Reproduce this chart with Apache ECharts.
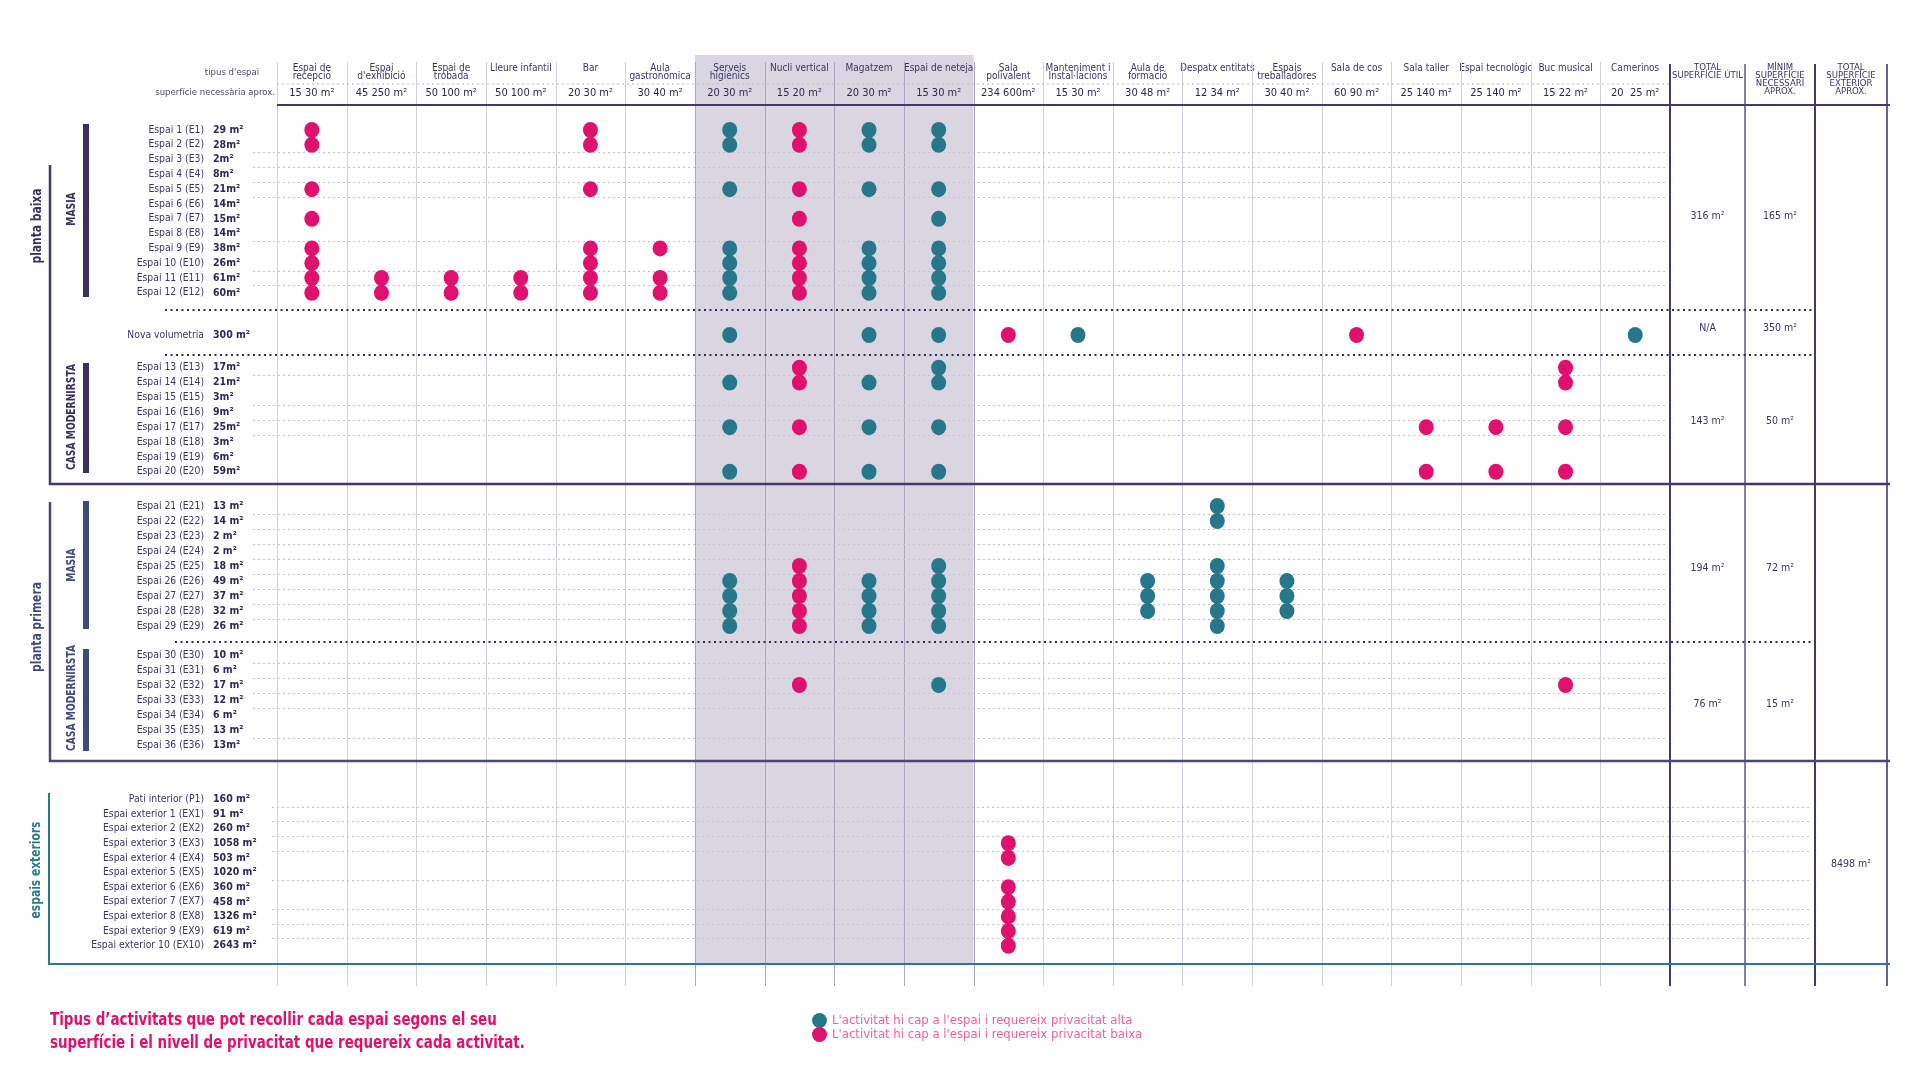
<!DOCTYPE html>
<html><head><meta charset="utf-8">
<script src="https://cdn.jsdelivr.net/npm/echarts@6/dist/echarts.min.js"></script>
<style>html,body{margin:0;padding:0;background:#fff}#c{width:1920px;height:1081px}</style>
</head><body><div id="c"></div><script>
// ---------- DATA ----------
const columnNames = ['Espai de\nrecepció','Espai\nd\'exhibició','Espai de\ntrobada','Lleure infantil','Bar','Aula\ngastronòmica','Serveis\nhigiènics','Nucli vertical','Magatzem','Espai de neteja','Sala\npolivalent','Manteniment i\nInstal·lacions','Aula de\nformació','Despatx entitats','Espais\ntreballadores','Sala de cos','Sala taller','Espai tecnològic','Buc musical','Camerinos'];
const columnAreas = ['15 30 m²','45 250 m²','50 100 m²','50 100 m²','20 30 m²','30 40 m²','20 30 m²','15 20 m²','20 30 m²','15 30 m²','234 600m²','15 30 m²','30 48 m²','12 34 m²','30 40 m²','60 90 m²','25 140 m²','25 140 m²','15 22 m²','20  25 m²'];

const baixaMasiaCodes = ['E1','E2','E3','E4','E5','E6','E7','E8','E9','E10','E11','E12'];
const baixaMasiaLabels = ['Espai 1 (E1)','Espai 2 (E2)','Espai 3 (E3)','Espai 4 (E4)','Espai 5 (E5)','Espai 6 (E6)','Espai 7 (E7)','Espai 8 (E8)','Espai 9 (E9)','Espai 10 (E10)','Espai 11 (E11)','Espai 12 (E12)'];
const baixaMasiaAreas = ['29 m²','28m²','2m²','8m²','21m²','14m²','15m²','14m²','38m²','26m²','61m²','60m²'];

const novaCodes = ['NV'];
const novaLabels = ['Nova volumetria'];
const novaAreas = ['300 m²'];

const baixaCasaCodes = ['E13','E14','E15','E16','E17','E18','E19','E20'];
const baixaCasaLabels = ['Espai 13 (E13)','Espai 14 (E14)','Espai 15 (E15)','Espai 16 (E16)','Espai 17 (E17)','Espai 18 (E18)','Espai 19 (E19)','Espai 20 (E20)'];
const baixaCasaAreas = ['17m²','21m²','3m²','9m²','25m²','3m²','6m²','59m²'];

const primeraMasiaCodes = ['E21','E22','E23','E24','E25','E26','E27','E28','E29'];
const primeraMasiaLabels = ['Espai 21 (E21)','Espai 22 (E22)','Espai 23 (E23)','Espai 24 (E24)','Espai 25 (E25)','Espai 26 (E26)','Espai 27 (E27)','Espai 28 (E28)','Espai 29 (E29)'];
const primeraMasiaAreas = ['13 m²','14 m²','2 m²','2 m²','18 m²','49 m²','37 m²','32 m²','26 m²'];

const primeraCasaCodes = ['E30','E31','E32','E33','E34','E35','E36'];
const primeraCasaLabels = ['Espai 30 (E30)','Espai 31 (E31)','Espai 32 (E32)','Espai 33 (E33)','Espai 34 (E34)','Espai 35 (E35)','Espai 36 (E36)'];
const primeraCasaAreas = ['10 m²','6 m²','17 m²','12 m²','6 m²','13 m²','13m²'];

const exteriorCodes = ['P1','EX1','EX2','EX3','EX4','EX5','EX6','EX7','EX8','EX9','EX10'];
const exteriorLabels = ['Pati interior (P1)','Espai exterior 1 (EX1)','Espai exterior 2 (EX2)','Espai exterior 3 (EX3)','Espai exterior 4 (EX4)','Espai exterior 5 (EX5)','Espai exterior 6 (EX6)','Espai exterior 7 (EX7)','Espai exterior 8 (EX8)','Espai exterior 9 (EX9)','Espai exterior 10 (EX10)'];
const exteriorAreas = ['160 m²','91 m²','260 m²','1058 m²','503 m²','1020 m²','360 m²','458 m²','1326 m²','619 m²','2643 m²'];

const totalUseful = ['316 m²','N/A','143 m²','194 m²','76 m²',''];
const totalMinimum = ['165 m²','350 m²','50 m²','72 m²','15 m²',''];
const totalExterior = ['','','','','','8498 m²'];

// [column index, rows where the activity fits]
const lowPrivacy = [
  [0,['E1','E2','E5','E7','E9','E10','E11','E12']],
  [1,['E11','E12']],
  [2,['E11','E12']],
  [3,['E11','E12']],
  [4,['E1','E2','E5','E9','E10','E11','E12']],
  [5,['E9','E11','E12']],
  [7,['E1','E2','E5','E7','E9','E10','E11','E12','E13','E14','E17','E20','E25','E26','E27','E28','E29','E32']],
  [10,['NV','EX3','EX4','EX6','EX7','EX8','EX9','EX10']],
  [15,['NV']],
  [16,['E17','E20']],
  [17,['E17','E20']],
  [18,['E13','E14','E17','E20','E32']]
];
const highPrivacy = [
  [6,['E1','E2','E5','E9','E10','E11','E12','NV','E14','E17','E20','E26','E27','E28','E29']],
  [8,['E1','E2','E5','E9','E10','E11','E12','NV','E14','E17','E20','E26','E27','E28','E29']],
  [9,['E1','E2','E5','E7','E9','E10','E11','E12','NV','E13','E14','E17','E20','E25','E26','E27','E28','E29','E32']],
  [11,['NV']],
  [12,['E26','E27','E28']],
  [13,['E21','E22','E25','E26','E27','E28','E29']],
  [14,['E26','E27','E28']],
  [19,['NV']]
];
const guideRows = ['E2','E3','E4','E5','E8','E10','E11','E13','E15','E16','E17','E21','E22','E23','E24','E25','E26','E27','E28','E30','E31','E32','E33','E35','P1','EX1','EX2','EX3','EX5','EX7','EX8','EX9'];

const LEGEND_HIGH = "L'activitat hi cap a l'espai i requereix privacitat alta";
const LEGEND_LOW = "L'activitat hi cap a l'espai i requereix privacitat baixa";
const TITLE = "Tipus d’activitats que pot recollir cada espai segons el seu\nsuperfície i el nivell de privacitat que requereix cada activitat.";

// ---------- LAYOUT / STYLE ----------
const NARROW = "'Liberation Sans Narrow','DejaVu Sans Condensed','Arial Narrow',sans-serif";
const INK = '#3b3563';
const PINK = '#e0106d';
const TEAL = '#27778a';
const PURPLE = '#46396a';
const NAVY = '#3e4b7c';

const sections = [
  {codes: baixaMasiaCodes, labels: baixaMasiaLabels, areas: baixaMasiaAreas},
  {codes: novaCodes, labels: novaLabels, areas: novaAreas},
  {codes: baixaCasaCodes, labels: baixaCasaLabels, areas: baixaCasaAreas},
  {codes: primeraMasiaCodes, labels: primeraMasiaLabels, areas: primeraMasiaAreas},
  {codes: primeraCasaCodes, labels: primeraCasaLabels, areas: primeraCasaAreas},
  {codes: exteriorCodes, labels: exteriorLabels, areas: exteriorAreas}
];
const layout = [
  {top:122.6, step:14.8, totalDy:5},
  {top:327.6, step:14.8, totalDy:-7},
  {top:360.3, step:14.86, totalDy:2},
  {top:498.5, step:15, totalDy:2},
  {top:647.5, step:15, totalDy:4},
  {top:792, step:14.64, totalDy:-8}
];
const GRID_LEFT = 277, GRID_RIGHT = 250;

const grids = [], xAxes = [], yAxes = [], series = [];
sections.forEach((s, i) => {
  const L = layout[i];
  grids.push({left: GRID_LEFT, right: GRID_RIGHT, top: L.top, height: s.codes.length * L.step});
  xAxes.push({gridIndex: i, type: 'category', data: columnNames, show: false});
  yAxes.push({
    gridIndex: i, type: 'category', data: s.codes, inverse: true, position: 'left', offset: 0,
    axisLine: {show: false}, axisTick: {show: false}, splitLine: {show: false},
    axisLabel: {interval: 0, margin: 73, fontSize: 10.3, color: INK, fontFamily: NARROW,
      formatter: (v, idx) => s.labels[idx]}
  });
  yAxes.push({
    gridIndex: i, type: 'category', data: s.codes, inverse: true, position: 'left', offset: 0,
    axisLine: {show: false}, axisTick: {show: false}, splitLine: {show: false},
    axisLabel: {interval: 0, margin: 64, align: 'left', fontSize: 10.5, fontWeight: 'bold', color: '#2f2a55', fontFamily: NARROW,
      formatter: (v, idx) => s.areas[idx]}
  });
  const pts = list => {
    const out = [];
    list.forEach(([c, rows]) => rows.forEach(r => { if (s.codes.includes(r)) out.push([columnNames[c], r]); }));
    return out;
  };
  const base = {type: 'scatter', xAxisIndex: i, yAxisIndex: 2 * i, symbol: 'circle', symbolSize: [15, 16], silent: true, z: 5};
  series.push(Object.assign({}, base, {name: LEGEND_HIGH, data: pts(highPrivacy), itemStyle: {color: TEAL, opacity: 1}}));
  series.push(Object.assign({}, base, {name: LEGEND_LOW, data: pts(lowPrivacy), itemStyle: {color: PINK, opacity: 1}}));
});
// header axes on the first grid
const headerOffset = layout[0].top - 105;
xAxes.push({gridIndex: 0, type: 'category', data: columnNames, position: 'top', offset: headerOffset,
  axisLine: {show: false}, axisTick: {show: false},
  axisLabel: {interval: 0, margin: 41, verticalAlign: 'top', lineHeight: 8.5, fontSize: 10, color: INK, fontFamily: NARROW}});
xAxes.push({gridIndex: 0, type: 'category', data: columnNames, position: 'top', offset: headerOffset,
  axisLine: {show: false}, axisTick: {show: false},
  axisLabel: {interval: 0, margin: 12, verticalAlign: 'middle', fontSize: 11, color: '#2c2852', fontFamily: NARROW,
    formatter: (v, idx) => columnAreas[idx]}});

const chart = echarts.init(document.getElementById('c'), null, {renderer: 'canvas'});
chart.setOption({
  animation: false,
  backgroundColor: '#ffffff',
  grid: grids, xAxis: xAxes, yAxis: yAxes, series: series,
  legend: {data: [LEGEND_HIGH, LEGEND_LOW], orient: 'vertical', left: 812, top: 1013, itemWidth: 15, itemHeight: 16, itemGap: -1,
    icon: 'circle', selectedMode: false, padding: 0,
    textStyle: {color: '#e5659d', fontSize: 13, fontFamily: NARROW, fontWeight: 300}}
});

// ---------- DECORATION (positions derived from the axes) ----------
const cx = i => chart.convertToPixel({xAxisIndex: 0}, columnNames[i]);
const bw = cx(1) - cx(0);
const edge = k => cx(0) - bw / 2 + k * bw;
const secOf = code => sections.findIndex(s => s.codes.includes(code));
const rowY = code => { const i = secOf(code); return chart.convertToPixel({yAxisIndex: 2 * i}, code); };

const g = [];
const line = (x1, y1, x2, y2, stroke, w, dash, z) => g.push({type: 'line', silent: true, z: z || 1,
  shape: {x1, y1, x2, y2}, style: {stroke, lineWidth: w, lineDash: dash || null}});
const text = (t, x, y, st, rot, sx) => g.push({type: 'text', silent: true, z: 6, x, y, rotation: rot || 0, scaleX: sx || 1,
  style: Object.assign({text: t, fill: INK, fontFamily: NARROW, fontSize: 11, align: 'center', verticalAlign: 'middle'}, st)});

// shaded block of shared services
g.push({type: 'rect', silent: true, z: 0, shape: {x: edge(6), y: 55, width: edge(10) - edge(6), height: 964 - 55}, style: {fill: '#d9d6e1'}});
// column separators
for (let k = 0; k < 20; k++) {
  const x = Math.round(edge(k)) + 0.5;
  line(x, 62, x, 986, (k >= 6 && k <= 10) ? '#ada7c1' : '#d3d0de', 1);
}
// totals columns
const tx = [edge(20), edge(20) + 75, edge(20) + 145, edge(20) + 217];
[2, 1.3, 2, 1.6].forEach((w, j) => line(tx[j], 64, tx[j], 986, PURPLE, w, null, 3));
const tc = [(tx[0] + tx[1]) / 2, (tx[1] + tx[2]) / 2, (tx[2] + tx[3]) / 2];
text('TOTAL\nSUPERFÍCIE ÚTIL', tc[0], 64, {verticalAlign: 'top', fontSize: 9.5, lineHeight: 8});
text('MÍNIM\nSUPERFÍCIE\nNECESSARI\nAPROX.', tc[1], 64, {verticalAlign: 'top', fontSize: 9.5, lineHeight: 8});
text('TOTAL\nSUPERFÍCIE\nEXTERIOR\nAPROX.', tc[2], 64, {verticalAlign: 'top', fontSize: 9.5, lineHeight: 8});
// header lines and labels
line(edge(0), 84, edge(20), 84, '#bdb9c9', 1, [2, 3]);
line(edge(0), 105, 1890, 105, PURPLE, 2, null, 3);
text('tipus d\'espai', 232, 73, {fontSize: 9.5, fill: '#4d4875'});
text('superfície necessària aprox.', 275, 93, {fontSize: 9.5, fill: '#4d4875', align: 'right'});

// guide rows (dotted)
guideRows.forEach(code => {
  const i = secOf(code);
  const y = Math.round(rowY(code) + layout[i].step / 2) + 0.5;
  if (i === 5) line(272, y, 1811, y, '#c6c2cf', 1, [2, 3]);
  else line(253, y, 1665, y, '#c6c2cf', 1, [2, 3]);
});
// section separators (bold dotted)
const sepAfter = (codeA, codeB) => (rowY(codeA) + rowY(codeB)) / 2;
line(165, 310, 1815, 310, '#2e2a5a', 2, [2, 3.5], 3);
line(165, 355, 1815, 355, '#2e2a5a', 2, [2, 3.5], 3);
const ySep = Math.round(sepAfter('E29', 'E30')) + 1;
line(175, ySep, 1815, ySep, '#2e2a5a', 2, [2, 3.5], 3);

// floor brackets
g.push({type: 'polyline', silent: true, z: 3, shape: {points: [[50, 165], [50, 484], [1890, 484]]}, style: {stroke: PURPLE, lineWidth: 2.5, fill: null}});
g.push({type: 'polyline', silent: true, z: 3, shape: {points: [[50, 502], [50, 761], [1890, 761]]}, style: {stroke: '#4a4877', lineWidth: 2.5, fill: null}});
g.push({type: 'polyline', silent: true, z: 3, shape: {points: [[49, 793], [49, 964], [1890, 964]]}, style: {stroke: '#2a7a8e', lineWidth: 2, fill: null}});
// building bars
const bar = (y1, y2, fill) => g.push({type: 'rect', silent: true, z: 3, shape: {x: 83, y: y1, width: 6, height: y2 - y1}, style: {fill}});
bar(124, 297, '#3b2f5f');
bar(363, 473, '#3b2f5f');
bar(501, 629, NAVY);
bar(649, 751, NAVY);
const R = Math.PI / 2;
text('planta baixa', 37, 226, {fontSize: 14, fontWeight: 'bold', fill: '#3b2f5f'}, R, 0.85);
text('MASIA', 72, 209, {fontSize: 12, fontWeight: 'bold', fill: '#3b2f5f'}, R, 0.85);
text('CASA MODERNIRSTA', 72, 417, {fontSize: 12, fontWeight: 'bold', fill: '#3b2f5f'}, R, 0.85);
text('planta primera', 37, 627, {fontSize: 14, fontWeight: 'bold', fill: NAVY}, R, 0.85);
text('MASIA', 72, 565, {fontSize: 12, fontWeight: 'bold', fill: NAVY}, R, 0.85);
text('CASA MODERNIRSTA', 72, 698, {fontSize: 12, fontWeight: 'bold', fill: NAVY}, R, 0.85);
text('espais exteriors', 36, 870, {fontSize: 14, fontWeight: 'bold', fill: '#2a7a8e'}, R, 0.85);

// totals per section
sections.forEach((s, i) => {
  const L = layout[i];
  const yc = L.top + s.codes.length * L.step / 2 + L.totalDy;
  if (totalUseful[i]) text(totalUseful[i], tc[0], yc, {fontSize: 10.5});
  if (totalMinimum[i]) text(totalMinimum[i], tc[1], yc, {fontSize: 10.5});
  if (totalExterior[i]) text(totalExterior[i], tc[2], yc, {fontSize: 10.5});
});

// title
text(TITLE, 50, 1009, {align: 'left', verticalAlign: 'top', fontSize: 17, lineHeight: 23, fontWeight: 'bold', fill: PINK}, 0, 0.88);

chart.setOption({graphic: {elements: g}});
</script></body></html>
